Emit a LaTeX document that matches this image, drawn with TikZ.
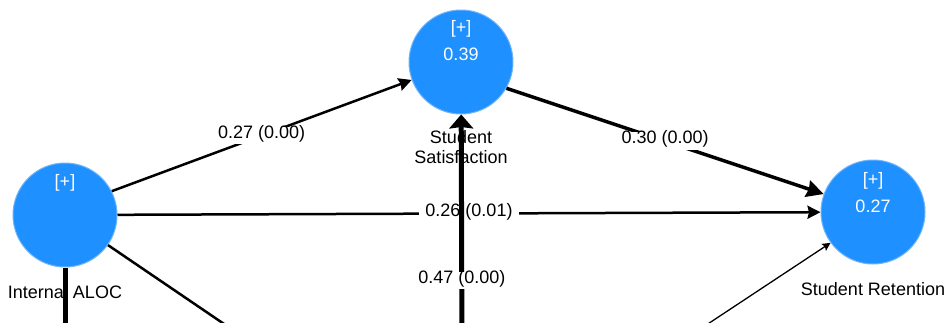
\documentclass[tikz,border=0pt]{standalone}
\usepackage{fontspec}
\setmainfont{Liberation Sans}
\usepackage{tikz}
\usetikzlibrary{arrows.meta, positioning}

\definecolor{lvblue}{RGB}{30,144,255}
\definecolor{lvring}{RGB}{110,180,250}

\begin{document}
\begin{tikzpicture}[
    x=1pt, y=-1pt,
    construct/.style={circle, fill=lvblue, draw=lvring, line width=1pt, minimum size=104pt, inner sep=0pt},
    ctag/.style={text=white, font=\fontsize{18}{20}\selectfont},
    cval/.style={text=white, font=\fontsize{18}{20}\selectfont},
    cname/.style={font=\fontsize{18}{20}\selectfont, align=center, inner sep=1pt},
    weight/.style={fill=white, font=\fontsize{18}{20}\selectfont, inner xsep=6pt, inner ysep=4pt, text height=0.75em, text depth=0.22em},
    link/.style={line width=#1, -{Stealth[inset=1.5pt, length=3pt+4*#1, width=3pt+4*#1]}},
    link/.default=2.5pt
]
    \useasboundingbox (0,0) rectangle (944,322);
    \clip (0,0) rectangle (944,322);

    % Constructs
    \node[construct] (aloc) at (65,215) {};
    \node[construct] (sat) at (461,62) {};
    \node[construct] (ret) at (873,212) {};

    \node[ctag] (aloc-tag) at (65,183) {[+]};
    \node[ctag] (sat-tag) at (461,29) {[+]};
    \node[cval] (sat-val) at (461,54) {0.39};
    \node[ctag] (ret-tag) at (873,181) {[+]};
    \node[cval] (ret-val) at (873,206) {0.27};

    \node[cname] (aloc-name) at (65,292) {Internal ALOC};
    \node[cname] (sat-name) at (461,147) {Student\\Satisfaction};
    \node[cname] (ret-name) at (873,289) {Student Retention};

    % Sources below the frame
    \coordinate (low-mid) at (462,345);
    \coordinate (low-left) at (65,345);
    \coordinate (low-diag) at (255,345);
    \coordinate (low-right) at (676,345);

    % Paths
    \draw[link] (aloc.27) -- node[weight] {0.27 (0.00)} (sat.200);
    \draw[link=3.5pt] (sat.-30) -- node[weight] {0.30 (0.00)} (ret.160);
    \draw[link] (aloc) -- node[weight] {0.26 (0.01)} (ret);
    \draw[line width=5pt, -{Stealth[inset=1.5pt, length=14pt, width=24pt]}] (low-mid) -- node[weight, pos=0.28] {0.47 (0.00)} (sat);
    \draw[line width=5pt] (aloc) -- (low-left);
    \draw[line width=2.5pt] (aloc.-35) -- (low-diag);
    \draw[link=1.3pt] (low-right) -- (ret.216);
\end{tikzpicture}
\end{document}
